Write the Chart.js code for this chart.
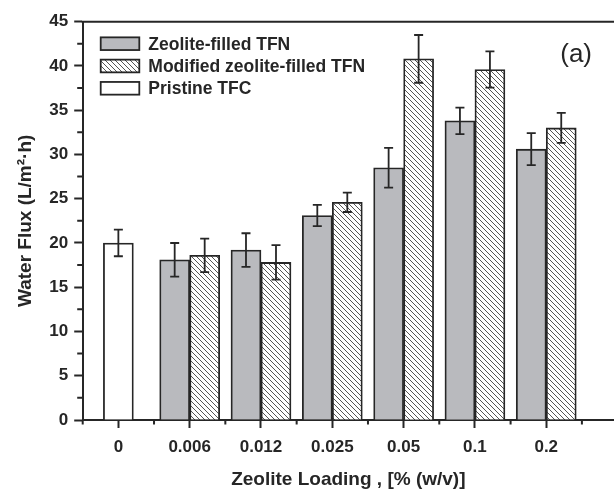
<!DOCTYPE html>
<html>
<head>
<meta charset="utf-8">
<script src="https://cdn.jsdelivr.net/npm/chart.js@4.4.1/dist/chart.umd.min.js"></script>
<style>
  html, body { margin: 0; background: #fff; }
  canvas { display: block; }
</style>
</head>
<body>
<canvas id="flux" width="614" height="490"></canvas>
<script>
'use strict';

// ── data ──
const loadings    = ['0', '0.006', '0.012', '0.025', '0.05', '0.1', '0.2'];
const pristine    = [20.0, null, null, null, null, null, null];
const pristineErr = [1.5, null, null, null, null, null, null];
const zeolite     = [null, 18.1, 19.2, 23.1, 28.5, 33.8, 30.6];
const zeoliteErr  = [null, 1.9, 1.9, 1.2, 2.25, 1.5, 1.8];
const modified    = [null, 18.6, 17.8, 24.6, 40.8, 39.6, 33.0];
const modifiedErr = [null, 1.9, 1.95, 1.1, 2.7, 2.05, 1.7];

// ── Chart.js defaults ──
Chart.defaults.color = '#222';
Chart.defaults.font.family = "'Liberation Sans', Arial, sans-serif";

const INK = '#262626';

// diagonal "\\\" hatch for the modified series
function hatch() {
  const c = document.createElement('canvas');
  c.width = 5; c.height = 5;
  const g = c.getContext('2d');
  g.fillStyle = '#fff';
  g.fillRect(0, 0, 5, 5);
  g.strokeStyle = '#555';
  g.lineWidth = 1;
  g.beginPath();
  g.moveTo(-1, -1); g.lineTo(6, 6);
  g.moveTo(-1, 4);  g.lineTo(1, 6);
  g.moveTo(4, -1);  g.lineTo(6, 1);
  g.stroke();
  return g.createPattern(c, 'repeat');
}

const pts = arr => arr.map((y, i) => ({ x: i, y }));

// error bars, drawn from each bar's own position
const errorBars = {
  id: 'errorBars',
  afterDatasetsDraw(chart) {
    const { ctx } = chart;
    const yS = chart.scales.y;
    ctx.save();
    ctx.strokeStyle = INK;
    ctx.lineWidth = 1.8;
    chart.data.datasets.forEach((ds, i) => {
      chart.getDatasetMeta(i).data.forEach((bar, j) => {
        const v = ds.data[j].y, e = ds.err[j];
        if (v == null || e == null) return;
        const hi = yS.getPixelForValue(v + e), lo = yS.getPixelForValue(v - e);
        ctx.beginPath();
        ctx.moveTo(bar.x, hi); ctx.lineTo(bar.x, lo);
        ctx.moveTo(bar.x - 4.5, hi); ctx.lineTo(bar.x + 4.5, hi);
        ctx.moveTo(bar.x - 4.5, lo); ctx.lineTo(bar.x + 4.5, lo);
        ctx.stroke();
      });
    });
    ctx.restore();
  }
};

// top frame line + minor ticks (half way between labelled ticks)
const frame = {
  id: 'frame',
  afterDraw(chart) {
    const { ctx, chartArea: a, scales: { x, y } } = chart;
    ctx.save();
    ctx.strokeStyle = INK;
    ctx.lineWidth = 2;
    ctx.beginPath();
    ctx.moveTo(a.left - 1, a.top); ctx.lineTo(a.right, a.top);
    ctx.stroke();

    const minors = (s) => {
      const v = s.ticks.map(t => t.value);
      const step = v[1] - v[0];
      const out = [];
      for (let k = -1; k < v.length; k++) {
        const m = v[0] + (k + 0.5) * step;
        if (m >= s.min - 1e-9 && m <= s.max + 1e-9) out.push(m);
      }
      return out;
    };
    ctx.beginPath();
    minors(x).forEach(m => {
      const px = x.getPixelForValue(m);
      ctx.moveTo(px, a.bottom); ctx.lineTo(px, a.bottom + 4.5);
    });
    minors(y).forEach(m => {
      const py = y.getPixelForValue(m);
      ctx.moveTo(a.left, py); ctx.lineTo(a.left - 5.5, py);
    });
    ctx.stroke();

    // panel tag
    ctx.fillStyle = INK;
    ctx.font = "26px 'Liberation Sans', Arial, sans-serif";
    ctx.textAlign = 'right';
    ctx.textBaseline = 'middle';
    ctx.fillText('(a)', a.right - 22, a.top + 33);
    ctx.restore();
  }
};

// boxed legend inside the plot, top-left
const boxLegend = {
  id: 'boxLegend',
  afterDatasetsDraw(chart, args, o) {
    const { ctx, chartArea: a } = chart;
    ctx.save();
    ctx.font = "bold 17.5px 'Liberation Sans', Arial, sans-serif";
    ctx.textBaseline = 'middle';
    ctx.textAlign = 'left';
    chart.data.datasets.forEach((ds, i) => {
      const x = a.left + o.left;
      const y = a.top + o.top + i * o.step;
      ctx.fillStyle = ds.backgroundColor;
      ctx.fillRect(x, y - o.boxH / 2, o.boxW, o.boxH);
      ctx.lineWidth = 1.8;
      ctx.strokeStyle = ds.borderColor;
      ctx.strokeRect(x, y - o.boxH / 2, o.boxW, o.boxH);
      ctx.fillStyle = INK;
      ctx.fillText(ds.label, x + o.boxW + o.gap, y + 1);
    });
    ctx.restore();
  }
};

new Chart(document.getElementById('flux'), {
  type: 'bar',
  data: {
    datasets: [
      { label: 'Zeolite-filled TFN', data: pts(zeolite), err: zeoliteErr,
        backgroundColor: '#b9babe', borderColor: INK },
      { label: 'Modified zeolite-filled TFN', data: pts(modified), err: modifiedErr,
        backgroundColor: hatch(), borderColor: INK },
      { label: 'Pristine TFC', data: pts(pristine), err: pristineErr,
        backgroundColor: '#fff', borderColor: INK, grouped: false }
    ]
  },
  options: {
    responsive: false,
    animation: false,
    barThickness: 30,
    borderWidth: 1.8,
    layout: { padding: { top: 21.7, right: 0, bottom: 0, left: 0 } },
    plugins: {
      legend: { display: false },
      tooltip: { enabled: false },
      boxLegend: { left: 18, top: 22, step: 22.3, boxW: 38.6, boxH: 12.7, gap: 9 }
    },
    scales: {
      x: {
        type: 'linear',
        min: -0.5, max: 6.95,
        offset: false,
        afterBuildTicks: s => { s.ticks = loadings.map((_, i) => ({ value: i })); },
        ticks: {
          callback: v => loadings[v] ?? '',
          autoSkip: false, maxRotation: 0, padding: 9.5,
          font: { size: 17, weight: 'bold' }, color: INK
        },
        grid: { offset: false, drawOnChartArea: false, tickLength: 8, tickWidth: 2, tickColor: INK },
        border: { color: INK, width: 2 },
        title: {
          display: true, text: 'Zeolite Loading , [% (w/v)]', color: INK,
          font: { size: 19, weight: 'bold', lineHeight: 1.1 },
          padding: { top: 1.7, bottom: 0 }
        }
      },
      y: {
        min: 0, max: 45,
        ticks: {
          stepSize: 5, autoSkip: false, padding: 6,
          font: { size: 17, weight: 'bold' }, color: INK
        },
        grid: { drawOnChartArea: false, tickLength: 8.5, tickWidth: 2, tickColor: INK },
        border: { color: INK, width: 2 },
        title: {
          display: true, text: 'Water Flux (L/m²·h)', color: INK,
          font: { size: 19, weight: 'bold', lineHeight: 1.1 },
          padding: { top: 15.5, bottom: 6.9 }
        }
      }
    }
  },
  plugins: [errorBars, boxLegend, frame]
});
</script>
</body>
</html>
